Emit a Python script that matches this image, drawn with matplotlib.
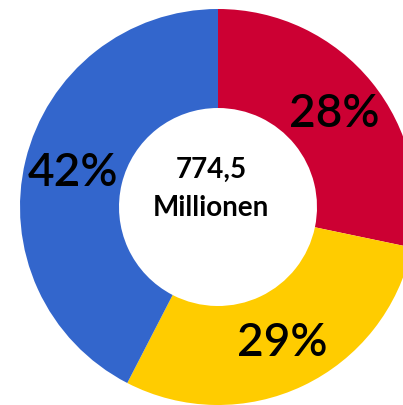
import matplotlib
matplotlib.use("Agg")
import matplotlib.pyplot as plt

# data
shares = [28, 29, 42]
share_labels = [f"{v}%" for v in shares]
colors = ['#CC0033', '#FFCC00', '#3366CC']
center_value = "774,5"
center_unit = "Millionen"

plt.rcParams['font.family'] = ['Lato', 'DejaVu Sans']

fig = plt.figure(figsize=(4.03, 4.06), dpi=100)
ax = fig.add_axes([0, 0, 1, 1])

# pixel-like coordinates, pie centre at (218, 208) from the top
cx, cy, r = 218, 406 - 208, 198
ax.pie(shares, colors=colors, labels=share_labels, startangle=90,
       counterclock=False, center=(cx, cy), radius=r, labeldistance=0.755,
       frame=True,
       wedgeprops={'width': 99, 'linewidth': 0},
       textprops={'fontsize': 33, 'ha': 'center', 'va': 'center',
                  'color': 'black', 'fontweight': 'semibold'})

ax.text(211, 406 - 170, center_value, fontsize=20, ha='center', va='center',
        fontweight='bold')
ax.text(211, 406 - 208, center_unit, fontsize=20, ha='center', va='center',
        fontweight='bold')

ax.set_xlim(0, 403)
ax.set_ylim(0, 406)
ax.set_aspect('equal')
ax.axis('off')

fig.savefig("out.png", dpi=100)
